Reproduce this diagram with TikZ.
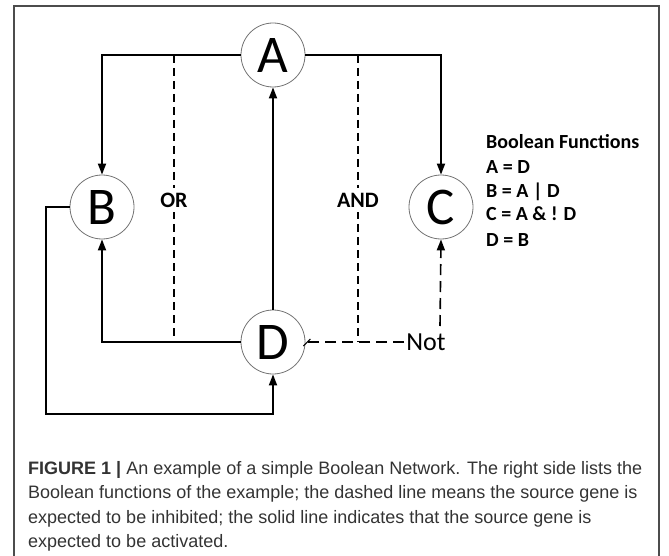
\documentclass[tikz,border=0pt]{standalone}
\usepackage{fontspec}
\setmainfont{Liberation Sans}
\newfontfamily\calfont{Carlito}
\newfontfamily\capfont{Liberation Sans}
\usetikzlibrary{arrows.meta,calc}
\definecolor{capgray}{HTML}{333333}
\tikzset{
  gene/.style={circle, draw=black!55, line width=0.8pt, fill=white, minimum size=64pt, inner sep=0pt,
    font=\calfont\fontsize{53}{53}\selectfont},
  act/.style={line width=1.8pt, -{Triangle[length=11pt,width=8pt]}},
  dsh/.style={line width=1.2pt, dash pattern=on 8pt off 5pt},
  notdsh/.style={line width=1.6pt, dash pattern=on 11pt off 6pt},
  dsharr/.style={notdsh, -{Triangle[length=11pt,width=8pt]}},
  lbl/.style={fill=white, inner sep=5pt, font=\calfont\bfseries\fontsize{22}{22}\selectfont},
  fn/.style={anchor=base west, inner sep=0pt, font=\calfont\bfseries\fontsize{20}{20}\selectfont},
  captext/.style={anchor=base west, inner sep=0pt, text=capgray, font=\capfont\fontsize{18}{18}\selectfont},
}
\begin{document}
\begin{tikzpicture}[x=1pt,y=-1pt]
\useasboundingbox (0,0) rectangle (669,556);
% frame
\draw[line width=1.5pt, black!70] (14,556) -- (14,6) -- (659,6) -- (659,556);

% genes
\node[gene] (A) at (273,55) {A};
\node[gene] (B) at (102,207) {B};
\node[gene] (C) at (441,207) {C};
\node[gene] (D) at (273,342) {D};

% dashed logic lines
\coordinate (orT) at (174,55);
\coordinate (orB) at (174,342);
\coordinate (andT) at (358,55);
\coordinate (andB) at (358,342);
\draw[dsh] (orT) -- (orB);
\draw[dsh] (andT) -- (andB);
\node[lbl] (or) at (174,200) {OR};
\node[lbl] (and) at (358,200) {AND};

% solid activations
\draw[act] (A.west) -| (B.north);
\draw[act] (A.east) -| (C.north);
\draw[act] (D.north) -- (A.south);
\draw[act] (D.west) -| (B.south);
\coordinate (loop) at (46,414);
\draw[act] (B.west) -| (loop) -| (D.south);

% inhibition (Not)
\node[inner sep=2pt, font=\calfont\fontsize{26}{26}\selectfont] (not) at (426,342) {Not};
\coordinate (notup) at (440,326);
\draw[notdsh] (not.west) -- ([xshift=2pt]D.east);
\draw[line width=1pt] ([shift={(-2,4)}]D.east) -- ([shift={(5,-3)}]D.east);
\draw[dsharr] (notup) -- (C.south);

% Boolean functions
\node[fn] (bf0) at (486,149) {Boolean Functions};
\node[fn] (bf1) at (486,174) {A = D};
\node[fn] (bf2) at (486,198) {B = A | D};
\node[fn] (bf3) at (486,221) {C = A \& ! D};
\node[fn] (bf4) at (486,246) {D = B};

% caption
\node[captext] (c1) at (28,474) {\textbf{FIGURE 1 |} An example of a simple Boolean Network. The right side lists the};
\node[captext] (c2) at (28,498.5) {Boolean functions of the example; the dashed line means the source gene is};
\node[captext] (c3) at (28,523) {expected to be inhibited; the solid line indicates that the source gene is};
\node[captext] (c4) at (28,547) {expected to be activated.};
\end{tikzpicture}
\end{document}
